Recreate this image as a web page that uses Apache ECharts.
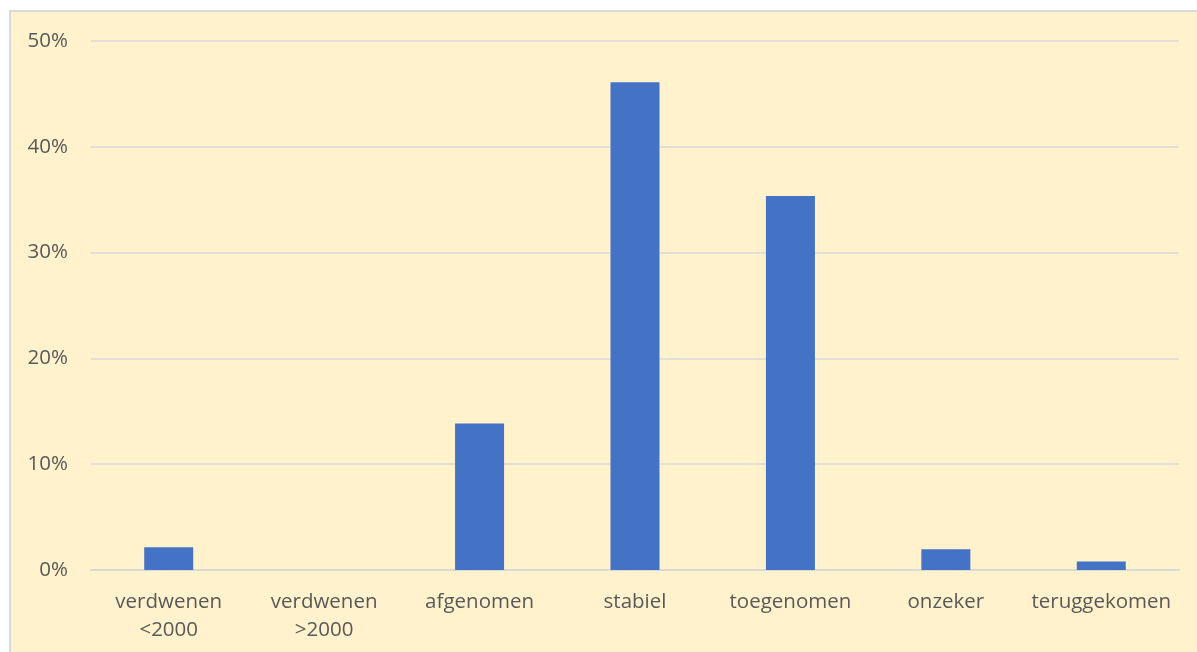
<!DOCTYPE html>
<html>
<head>
<meta charset="utf-8">
<script src="https://cdn.jsdelivr.net/npm/echarts@6/dist/echarts.min.js"></script>
<style>
html,body{margin:0;padding:0;background:#fff;}
#c{width:1197px;height:652px;}
</style>
</head>
<body>
<div id="c"></div>
<script>
const categories = ["verdwenen\n<2000", "verdwenen\n>2000", "afgenomen", "stabiel", "toegenomen", "onzeker", "teruggekomen"];
const values = [2.15, 0, 13.85, 46.1, 35.35, 1.95, 0.8];
const yTicks = [0, 10, 20, 30, 40, 50];

const chart = echarts.init(document.getElementById('c'));
chart.setOption({
  backgroundColor: '#ffffff',
  animation: false,
  graphic: [{
    type: 'rect', z: -10, silent: true,
    shape: { x: 10, y: 11, width: 1200, height: 660 },
    style: { fill: '#FFF2CC', stroke: '#D9D9D9', lineWidth: 2 }
  }],
  grid: { left: 91, right: 18, top: 41, bottom: 82, containLabel: false },
  xAxis: {
    type: 'category',
    data: categories,
    axisLine: { show: true, lineStyle: { color: '#D9D9D9', width: 2 } },
    axisTick: { show: false },
    axisLabel: { color: '#595959', fontSize: 20.5, fontFamily: 'Open Sans', lineHeight: 28, margin: 18, interval: 0 }
  },
  yAxis: {
    type: 'value',
    min: yTicks[0], max: yTicks[yTicks.length - 1], interval: 10,
    axisLine: { show: false },
    axisTick: { show: false },
    splitLine: { lineStyle: { color: '#D9D9D9', width: 1.5 } },
    axisLabel: { color: '#595959', fontSize: 20.5, fontFamily: 'Open Sans', margin: 23, formatter: v => v + '%' }
  },
  series: [{
    type: 'bar',
    data: values,
    barWidth: 49,
    itemStyle: { color: '#4472C4' }
  }]
});
</script>
</body>
</html>
